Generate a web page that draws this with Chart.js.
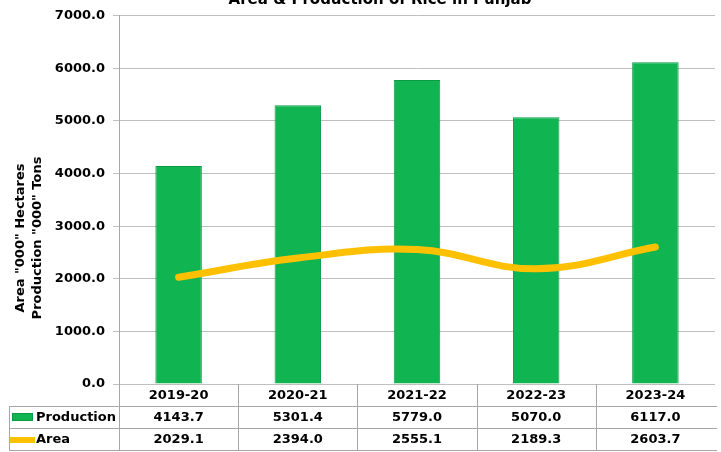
<!DOCTYPE html>
<html>
<head>
<meta charset="utf-8">
<script src="https://cdn.jsdelivr.net/npm/chart.js@4"></script>
<style>
    body { margin: 0; background: #fff; }
    #chart { display: block; }
</style>
</head>
<body>
<canvas id="chart" width="721" height="452"></canvas>
<script>
// Chart data
const years = ['2019-20', '2020-21', '2021-22', '2022-23', '2023-24'];
const production = [4143.7, 5301.4, 5779.0, 5070.0, 6117.0];
const area = [2029.1, 2394.0, 2555.1, 2189.3, 2603.7];

const titleText = 'Area & Production of Rice in Punjab';
const axisTitle = ['Area "000" Hectares', 'Production "000" Tons'];

const FONT = '"DejaVu Sans", Verdana, sans-serif';
const GREEN = '#10B552';
const YELLOW = '#FFC000';

// Draws title, rotated axis title and the data table under the plot
const tablePlugin = {
    id: 'tablePlugin',
    afterDraw(chart) {
        const ctx = chart.ctx;
        const x = chart.scales.x;
        const area0 = chart.chartArea;
        const step = x.getPixelForValue(1) - x.getPixelForValue(0);
        const top = area0.bottom;
        const rowH = 22;
        const left = 9;
        const right = area0.right + 2;

        ctx.save();

        // title
        ctx.fillStyle = '#000';
        ctx.font = 'bold 15px ' + FONT;
        ctx.textAlign = 'center';
        ctx.textBaseline = 'alphabetic';
        ctx.fillText(titleText, 380, 4);

        // axis title
        ctx.font = 'bold 13px ' + FONT;
        ctx.translate(0, 238);
        ctx.rotate(-Math.PI / 2);
        ctx.textBaseline = 'middle';
        ctx.fillText(axisTitle[0], 0, 21);
        ctx.fillText(axisTitle[1], 0, 38);
        ctx.setTransform(1, 0, 0, 1, 0, 0);

        // table lines (no right border, as in the original)
        ctx.strokeStyle = '#A6A6A6';
        ctx.lineWidth = 1;
        ctx.beginPath();
        for (let r = 1; r <= 3; r++) {
            ctx.moveTo(left, top + r * rowH + 0.5);
            ctx.lineTo(right, top + r * rowH + 0.5);
        }
        ctx.moveTo(left + 0.5, top + rowH);
        ctx.lineTo(left + 0.5, top + 3 * rowH);
        for (let i = 0; i < years.length; i++) {
            const bx = Math.round(x.getPixelForValue(i) - step / 2) + 0.5;
            ctx.moveTo(bx, top);
            ctx.lineTo(bx, top + 3 * rowH);
        }
        ctx.stroke();

        // legend keys
        ctx.fillStyle = GREEN;
        ctx.fillRect(12, top + 29, 21, 8);
        ctx.strokeStyle = '#0C9B45';
        ctx.strokeRect(12.5, top + 29.5, 20, 7);
        ctx.fillStyle = YELLOW;
        ctx.fillRect(10, top + 53, 25, 6);

        // row labels
        ctx.fillStyle = '#000';
        ctx.font = 'bold 13px ' + FONT;
        ctx.textAlign = 'left';
        ctx.textBaseline = 'middle';
        ctx.fillText('Production', 36, top + rowH * 1.5 + 1);
        ctx.fillText('Area', 36, top + rowH * 2.5 + 1);

        // cells
        ctx.textAlign = 'center';
        years.forEach((y, i) => {
            const cx = x.getPixelForValue(i);
            ctx.fillText(y, cx, top + rowH * 0.5 + 1);
            ctx.fillText(production[i].toFixed(1), cx, top + rowH * 1.5 + 1);
            ctx.fillText(area[i].toFixed(1), cx, top + rowH * 2.5 + 1);
        });

        ctx.restore();
    }
};

new Chart(document.getElementById('chart'), {
    data: {
        labels: years,
        datasets: [
            {
                type: 'line',
                label: 'Area',
                data: area,
                borderColor: YELLOW,
                borderWidth: 7,
                borderCapStyle: 'round',
                tension: 0.4,
                pointRadius: 0,
                fill: false,
                order: 1
            },
            {
                type: 'bar',
                label: 'Production',
                data: production,
                backgroundColor: GREEN,
                borderColor: '#0C9B45',
                borderWidth: 1,
                categoryPercentage: 1,
                barPercentage: 0.39,
                order: 2
            }
        ]
    },
    options: {
        responsive: false,
        animation: false,
        events: [],
        layout: { padding: { top: 15, bottom: 68, left: 0, right: 6 } },
        plugins: {
            legend: { display: false },
            title: { display: false },
            tooltip: { enabled: false }
        },
        scales: {
            x: { display: false },
            y: {
                min: 0,
                max: 7000,
                afterFit(scale) { scale.width = 119; },
                ticks: {
                    stepSize: 1000,
                    padding: 8,
                    color: '#000',
                    font: { family: FONT, size: 13, weight: 'bold' },
                    callback: v => v.toFixed(1)
                },
                grid: { color: '#BFBFBF', lineWidth: 1, tickLength: 6 },
                border: { color: '#A6A6A6' }
            }
        }
    },
    plugins: [tablePlugin]
});
</script>
</body>
</html>
